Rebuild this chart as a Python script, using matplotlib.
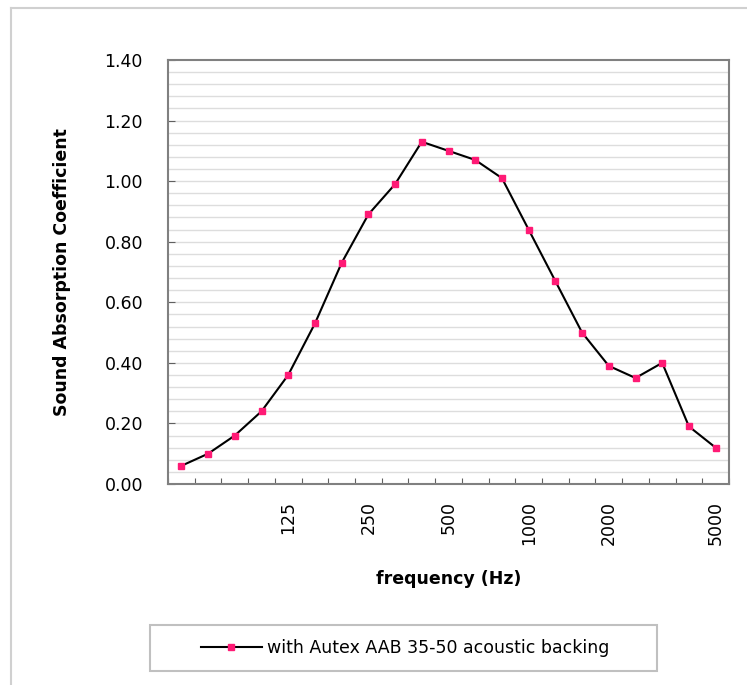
import numpy as np
from matplotlib import pyplot as plt
from matplotlib.patches import Rectangle
from matplotlib.lines import Line2D

# one-third octave bands and measured absorption
freqs = [50, 63, 80, 100, 125, 160, 200, 250, 315, 400, 500, 630, 800,
         1000, 1250, 1600, 2000, 2500, 3150, 4000, 5000]
alpha = [0.06, 0.10, 0.16, 0.24, 0.36, 0.53, 0.73, 0.89, 0.99, 1.13, 1.10,
         1.07, 1.01, 0.84, 0.67, 0.50, 0.39, 0.35, 0.40, 0.19, 0.12]
shown = [125, 250, 500, 1000, 2000, 5000]
yticks = [0.0, 0.2, 0.4, 0.6, 0.8, 1.0, 1.2, 1.4]

W, H = 747, 685
fig = plt.figure(figsize=(W/100, H/100), dpi=100)
ax = fig.add_axes([168/W, 1-484/H, (729-168)/W, (484-60)/H])

x = np.arange(len(freqs))
ax.plot(x, alpha, color='black', lw=1.5, marker='s', ms=4,
        mfc='#ff1a75', mec='#ff1a75', label='with Autex AAB 35-50 acoustic backing', zorder=3)

ax.set_xlim(-0.5, len(freqs) - 0.5)
ax.set_ylim(0, 1.4)

# horizontal gridlines every 0.04
for g in np.arange(0.04, 1.40, 0.04):
    ax.axhline(g, color='#dddddd', lw=1, zorder=1)

ax.set_yticks(yticks)
ax.set_yticklabels(['%.2f' % v for v in yticks], fontsize=12.5)
ax.set_xticks(np.arange(-0.5, len(freqs), 1.0))
ax.set_xticklabels([])
ax.set_xticks([freqs.index(f) for f in shown], minor=True)
ax.set_xticklabels([str(f) for f in shown], minor=True, rotation=90, fontsize=12.5)
ax.tick_params(axis='x', which='major', direction='in', length=4, color='#606060')
ax.tick_params(axis='x', which='minor', length=0, pad=12)
ax.tick_params(axis='y', direction='in', length=5, color='#606060', pad=18)

for s in ax.spines.values():
    s.set_color('#808080')
    s.set_linewidth(1.5)

ax.set_xlabel('frequency (Hz)', fontsize=12.5, fontweight='bold', labelpad=18)
ax.set_ylabel('Sound Absorption Coefficient', fontsize=12.5, fontweight='bold', labelpad=24)

leg = fig.legend(loc='center', bbox_to_anchor=(405/W, 1-648/H),
                 frameon=False, fontsize=12.5, handlelength=3.5, handletextpad=0.3)
fig.patches.append(Rectangle((150/W, 1-671/H), (657-150)/W, 46/H, transform=fig.transFigure,
                             fill=False, edgecolor='#c0c0c0', lw=1.5))

# outer chart border, only left and top edges fall inside the image
fig.add_artist(Line2D([11/W, 11/W], [0, 1-8/H], transform=fig.transFigure, color='#d0d0d0', lw=1.5))
fig.add_artist(Line2D([11/W, 1], [1-8/H, 1-8/H], transform=fig.transFigure, color='#d0d0d0', lw=1.5))

plt.savefig('out.png', dpi=100)
